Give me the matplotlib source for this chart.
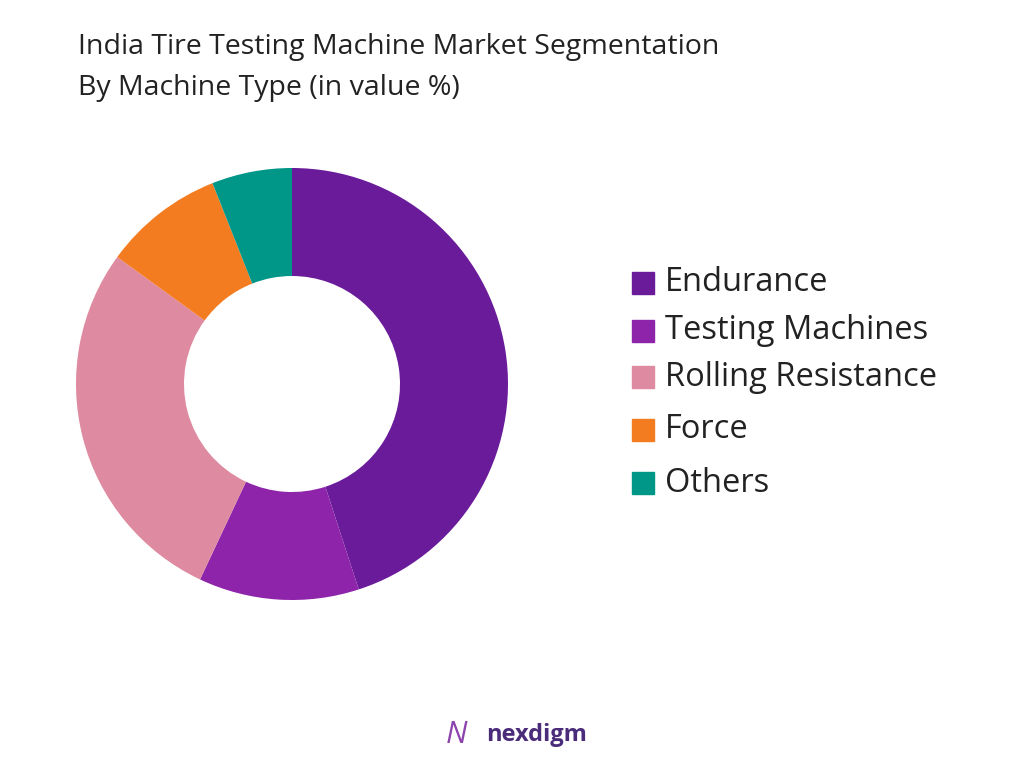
import matplotlib
matplotlib.use("Agg")
import matplotlib.pyplot as plt

labels = ["Endurance", "Testing Machines", "Rolling Resistance", "Force", "Others"]
values = [45, 12, 28, 9, 6]
colors = ["#6A1B9A", "#8E24AA", "#DE8AA0", "#F47C20", "#009688"]

plt.rcParams['font.family'] = ['Open Sans', 'DejaVu Sans']
fig = plt.figure(figsize=(10.24, 7.68), dpi=100)
ax = fig.add_axes([292/1024 - 216/1024, 1 - (384+216)/768, 432/1024, 432/768])
wedges, _ = ax.pie(values, colors=colors, startangle=90, counterclock=False,
                   wedgeprops=dict(width=0.5, edgecolor='none'), radius=1)
ax.set_xlim(-1, 1); ax.set_ylim(-1, 1)
ax.set_aspect('equal')

fig.text(78/1024, 1 - 47/768, "India Tire Testing Machine Market Segmentation", fontsize=20.5, va='center', color='#222222')
fig.text(78/1024, 1 - 88/768, "By Machine Type (in value %)", fontsize=20.5, va='center', color='#222222')

ys = [283, 331, 377, 430, 483]
for lab, c, y in zip(labels, colors, ys):
    fig.patches.append(plt.Rectangle((632/1024, 1 - (y+11)/768), 22/1024, 22/768,
                                     color=c, transform=fig.transFigure, figure=fig))
    fig.text(665/1024, 1 - y/768, lab, fontsize=23.5, va='center', color='#222222')

fig.text(486/1024, 1 - 735/768, "nexdigm", fontsize=17, fontweight='bold', va='center', color='#4A2C7A')
fig.text(446/1024, 1 - 735/768, "N", fontsize=22, va='center', color='#8E44AD', style='italic')
fig.savefig("out.png", dpi=100)
